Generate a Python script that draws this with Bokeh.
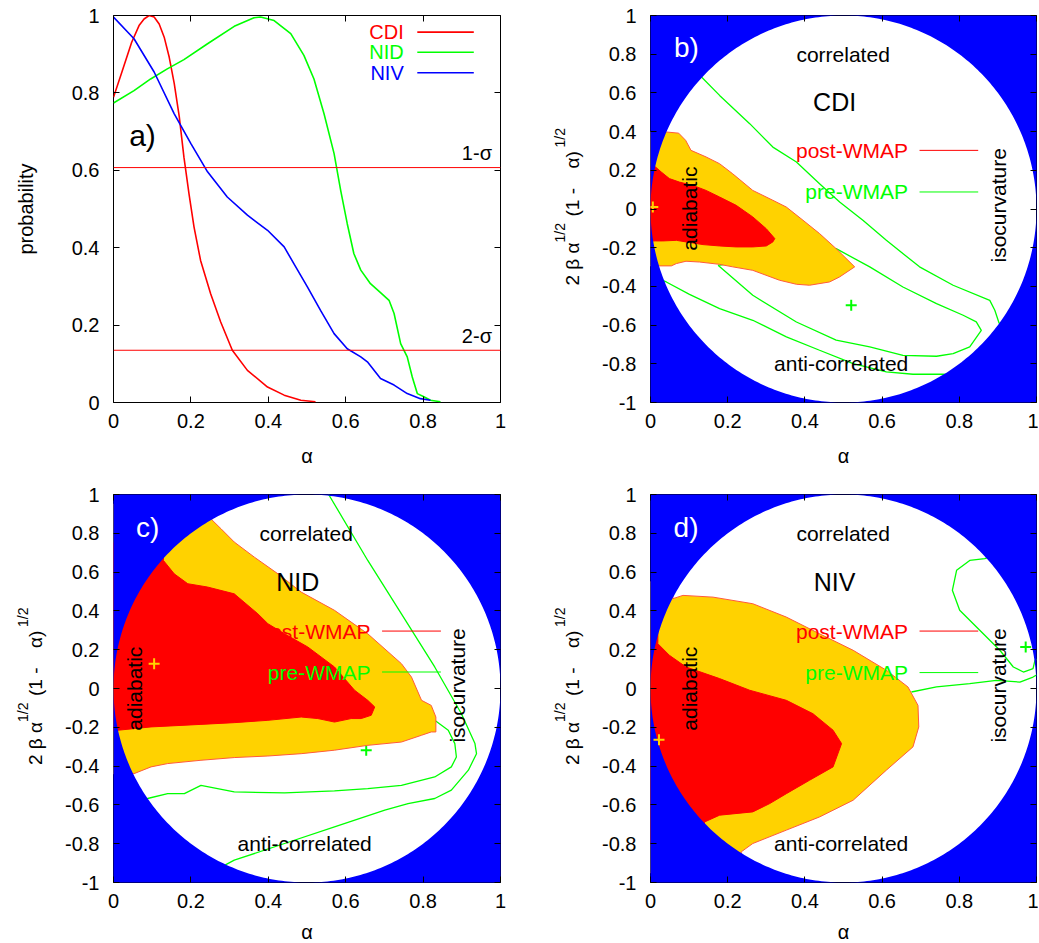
import math
import numpy as np
from bokeh.plotting import figure
from bokeh.models import Range1d, LinearAxis, FixedTicker, Label, Span, NumeralTickFormatter
from bokeh.layouts import column, row
from bokeh.embed import file_html
from bokeh.resources import INLINE

FONT = "Liberation Sans"
BLUE = "#0000ff"
GOLD = "#ffd200"
RED = "#ff0000"
GREEN = "#00ff00"

# ---------------- data ----------------
alpha_ticks = [0, 0.2, 0.4, 0.6, 0.8, 1]
prob_ticks = [0, 0.2, 0.4, 0.6, 0.8, 1]
corr_ticks = [-1, -0.8, -0.6, -0.4, -0.2, 0, 0.2, 0.4, 0.6, 0.8, 1]
sigma_levels = [0.607, 0.135]
sigma_labels = ["1-σ", "2-σ"]
model_names = ["CDI", "NID", "NIV"]

# panel a: marginalised probability of alpha
cdi_alpha = [0.000, 0.023, 0.047, 0.066, 0.079, 0.092, 0.105, 0.118, 0.131, 0.144, 0.157, 0.170,
             0.182, 0.195, 0.208, 0.225, 0.251, 0.277, 0.307, 0.346, 0.398, 0.441, 0.484, 0.522]
cdi_prob = [0.789, 0.858, 0.931, 0.974, 0.991, 1.000, 0.996, 0.978, 0.944, 0.892, 0.824, 0.738,
            0.634, 0.540, 0.454, 0.367, 0.281, 0.208, 0.135, 0.083, 0.040, 0.019, 0.006, 0.002]
nid_alpha = [0.000, 0.053, 0.096, 0.139, 0.182, 0.243, 0.312, 0.363, 0.380, 0.415, 0.458, 0.492,
             0.518, 0.544, 0.570, 0.587, 0.604, 0.621, 0.639, 0.664, 0.690, 0.712, 0.725, 0.742,
             0.759, 0.772, 0.785, 0.802, 0.819, 0.845]
nid_prob = [0.774, 0.806, 0.836, 0.862, 0.886, 0.927, 0.972, 0.994, 0.996, 0.987, 0.953, 0.897,
            0.836, 0.746, 0.643, 0.548, 0.462, 0.385, 0.342, 0.307, 0.284, 0.264, 0.230, 0.152,
            0.118, 0.066, 0.023, 0.015, 0.006, 0.002]
niv_alpha = [0.000, 0.053, 0.105, 0.157, 0.200, 0.243, 0.294, 0.346, 0.398, 0.441, 0.466, 0.501,
             0.535, 0.570, 0.604, 0.639, 0.656, 0.690, 0.725, 0.759, 0.793, 0.819]
niv_prob = [0.996, 0.940, 0.854, 0.746, 0.669, 0.596, 0.531, 0.484, 0.445, 0.402, 0.359, 0.299,
            0.238, 0.178, 0.139, 0.118, 0.105, 0.062, 0.045, 0.023, 0.010, 0.006]

# panel b: CDI
b_post2_x = [-0.05, 0.041, 0.073, 0.091, 0.105, 0.144, 0.179, 0.213, 0.265, 0.317, 0.352, 0.395, 0.438,
             0.481, 0.529, 0.490, 0.464, 0.412, 0.378, 0.334, 0.265, 0.213, 0.179, 0.127, 0.092,
             0.067, 0.054, 0.023, -0.05]
b_post2_y = [0.40, 0.398, 0.392, 0.355, 0.303, 0.269, 0.234, 0.182, 0.096, 0.045, 0.010, -0.058, -0.127,
             -0.205, -0.299, -0.351, -0.377, -0.394, -0.389, -0.368, -0.317, -0.299, -0.286, -0.274,
             -0.270, -0.282, -0.294, -0.294, -0.294]
b_post1_x = [-0.05, 0.013, 0.028, 0.049, 0.075, 0.110, 0.144, 0.179, 0.222, 0.265, 0.300, 0.322, 0.317,
             0.300, 0.265, 0.222, 0.179, 0.136, 0.092, 0.067, 0.032, 0.013, -0.05]
b_post1_y = [0.217, 0.217, 0.191, 0.157, 0.139, 0.122, 0.096, 0.062, 0.019, -0.041, -0.102, -0.153, -0.170,
             -0.191, -0.196, -0.196, -0.191, -0.184, -0.170, -0.162, -0.165, -0.165, -0.165]
b_pre_a_x = [0.12, 0.134, 0.179, 0.257, 0.317, 0.378, 0.438, 0.490, 0.551, 0.611, 0.697, 0.784, 0.879,
             0.892, 0.903, 0.915]
b_pre_a_y = [0.70, 0.678, 0.587, 0.441, 0.320, 0.243, 0.131, 0.036, -0.059, -0.162, -0.299, -0.394, -0.472,
             -0.523, -0.589, -0.61]
b_pre_b_x = [0.175, 0.265, 0.378, 0.481, 0.568, 0.654, 0.741, 0.784, 0.827, 0.857, 0.844, 0.810, 0.741,
             0.654, 0.568, 0.481, 0.40, 0.25, 0.175]
b_pre_b_y = [-0.291, -0.446, -0.584, -0.678, -0.713, -0.756, -0.761, -0.747, -0.713, -0.627, -0.583, -0.549,
             -0.489, -0.403, -0.299, -0.205, -0.25, -0.27, -0.291]
b_pre_c_x = [0.02, 0.041, 0.101, 0.179, 0.265, 0.352, 0.438, 0.525, 0.611, 0.680, 0.754, 0.78]
b_pre_c_y = [-0.36, -0.377, -0.441, -0.515, -0.575, -0.661, -0.730, -0.799, -0.842, -0.854, -0.854, -0.855]
b_post_best = [0.006, 0.010]
b_pre_best = [0.520, -0.497]

# panel c: NID
c_post2_x = [0.254, 0.278, 0.312, 0.364, 0.425, 0.485, 0.571, 0.657, 0.744, 0.770, 0.796, 0.821, 0.833,
             0.833, 0.821, 0.796, 0.744, 0.657, 0.571, 0.485, 0.399, 0.312, 0.226, 0.140, 0.097,
             0.053, -0.05, -0.05, 0.254]
c_post2_y = [0.870, 0.823, 0.755, 0.677, 0.591, 0.497, 0.403, 0.282, 0.128, 0.059, -0.061, -0.087, -0.147,
             -0.224, -0.224, -0.241, -0.276, -0.293, -0.318, -0.336, -0.348, -0.356, -0.370, -0.387,
             -0.404, -0.439, -0.44, 0.95, 0.95]
c_post1_x = [0.129, 0.157, 0.192, 0.243, 0.312, 0.373, 0.399, 0.442, 0.502, 0.571, 0.623, 0.657, 0.675,
             0.666, 0.640, 0.614, 0.571, 0.528, 0.485, 0.399, 0.312, 0.226, 0.097, 0.012, -0.05,
             -0.05, 0.129]
c_post1_y = [0.660, 0.591, 0.540, 0.523, 0.488, 0.385, 0.334, 0.282, 0.214, 0.111, -0.009, -0.061, -0.095,
             -0.138, -0.155, -0.155, -0.173, -0.155, -0.147, -0.164, -0.176, -0.185, -0.198, -0.215,
             -0.215, 0.75, 0.75]
c_pre_a_x = [0.556, 0.657, 0.744, 0.830, 0.899, 0.934, 0.938, 0.917, 0.873, 0.830, 0.761, 0.701, 0.571,
             0.442, 0.312, 0.27]
c_pre_a_y = [1.0, 0.660, 0.385, 0.111, -0.130, -0.284, -0.336, -0.421, -0.524, -0.567, -0.593, -0.627,
             -0.713, -0.799, -0.885, -0.93]
c_pre_b_x = [0.80, 0.830, 0.865, 0.882, 0.886, 0.873, 0.830, 0.744, 0.657, 0.571, 0.442, 0.312, 0.226,
             0.183, 0.140, 0.088, 0.06]
c_pre_b_y = [-0.13, -0.164, -0.215, -0.284, -0.353, -0.404, -0.456, -0.499, -0.516, -0.528, -0.538, -0.533,
             -0.499, -0.542, -0.542, -0.567, -0.58]
c_post_best = [0.105, 0.128]
c_pre_best = [0.653, -0.318]

# panel d: NIV
d_post2_x = [0.058, 0.084, 0.162, 0.265, 0.352, 0.438, 0.525, 0.611, 0.667, 0.693, 0.695, 0.680, 0.611,
             0.525, 0.438, 0.352, 0.265, 0.235, 0.235, -0.05, -0.05, 0.058]
d_post2_y = [0.463, 0.480, 0.471, 0.437, 0.368, 0.282, 0.197, 0.094, 0.008, -0.087, -0.198, -0.301, -0.421,
             -0.576, -0.662, -0.730, -0.799, -0.842, -0.95, -0.95, 0.55, 0.55]
d_post1_x = [0.019, 0.049, 0.092, 0.179, 0.257, 0.352, 0.421, 0.473, 0.495, 0.473, 0.412, 0.352, 0.309,
             0.265, 0.179, 0.140, 0.140, -0.05, -0.05, 0.019]
d_post1_y = [0.231, 0.171, 0.111, 0.051, -0.009, -0.061, -0.130, -0.215, -0.284, -0.404, -0.473, -0.542,
             -0.593, -0.636, -0.653, -0.688, -0.80, -0.80, 0.30, 0.30]
d_pre_a_x = [0.676, 0.741, 0.827, 0.896, 0.957, 0.991, 1.01]
d_pre_a_y = [-0.018, 0.008, 0.025, 0.042, 0.033, 0.059, 0.08]
d_pre_b_x = [0.88, 0.866, 0.827, 0.793, 0.782, 0.801, 0.853, 0.905, 0.940, 0.966, 0.991, 0.996, 1.01]
d_pre_b_y = [0.68, 0.669, 0.660, 0.609, 0.506, 0.403, 0.300, 0.197, 0.111, 0.085, 0.102, 0.145, 0.16]
d_post_best = [0.022, -0.264]
d_pre_best = [0.972, 0.214]


# ---------------- helpers ----------------
def base_fig(ylo, bl, br, bt, bb, fw, fh, yticks, xlab_standoff, xtick_standoff):
    p = figure(frame_width=fw, frame_height=fh, x_range=Range1d(0, 1), y_range=Range1d(ylo, 1),
               output_backend="svg", toolbar_location=None,
               min_border_left=bl, min_border_right=br, min_border_top=bt, min_border_bottom=bb,
               background_fill_color="white", border_fill_color="white")
    p.grid.visible = False
    p.outline_line_color = "black"
    p.outline_line_width = 1
    for ax, ticks in ((p.xaxis[0], alpha_ticks), (p.yaxis[0], yticks)):
        ax.ticker = FixedTicker(ticks=ticks)
        ax.formatter = NumeralTickFormatter(format="0.[0]")
        ax.major_tick_in = 6
        ax.major_tick_out = 0
        ax.minor_tick_line_color = None
        ax.axis_line_color = None
        ax.major_tick_line_color = "black"
        ax.major_label_text_font = FONT
        ax.major_label_text_font_size = "20px"
        ax.major_label_text_color = "black"
        ax.axis_label_text_font = FONT
        ax.axis_label_text_font_size = "20px"
        ax.axis_label_text_font_style = "normal"
        ax.axis_label_text_color = "black"
    p.xaxis[0].axis_label = "α"
    p.xaxis[0].major_label_standoff = xtick_standoff
    p.xaxis[0].axis_label_standoff = xlab_standoff
    p.yaxis[0].major_label_standoff = 14
    for loc, ticks in (("above", alpha_ticks), ("right", yticks)):
        ax = LinearAxis(ticker=FixedTicker(ticks=ticks), major_label_text_font_size="1px",
                        major_label_text_color=None, major_label_text_alpha=0,
                        major_label_standoff=0, major_tick_in=6, major_tick_out=0,
                        axis_line_color=None, minor_tick_line_color=None,
                        major_tick_line_color="black")
        p.add_layout(ax, loc)
    return p


def lab(p, x, y, text, size, color="black", angle=0.0, align="center", baseline="middle"):
    p.add_layout(Label(x=x, y=y, text=text, text_font=FONT, text_font_size=size,
                       text_color=color, angle=angle, angle_units="rad",
                       text_align=align, text_baseline=baseline))


def ylabel_fig(W, top, fh, bottom):
    # narrow companion figure whose frame is aligned with the neighbouring panel's frame;
    # y coordinates are pixels measured from the frame centre
    f = figure(frame_width=W, frame_height=fh,
               x_range=Range1d(0, W), y_range=Range1d(-fh / 2, fh / 2),
               output_backend="svg", toolbar_location=None,
               min_border_left=0, min_border_right=0, min_border_top=top, min_border_bottom=bottom,
               x_axis_location=None, y_axis_location=None,
               background_fill_color="white", border_fill_color="white")
    f.outline_line_color = None
    f.grid.visible = False
    pieces = [("2 β α", W - 18, -76.5, "19px"),
              ("1/2", W - 31, -33.5, "14px"),
              ("(1 -", W - 18, -7.5, "19px"),
              ("α)", W - 18, 40.5, "19px"),
              ("1/2", W - 31, 61.5, "14px")]
    for t, x, y, s in pieces:
        lab(f, x, y, t, s, angle=math.pi / 2, align="left", baseline="alphabetic")
    return f


def mask(p):
    t = np.linspace(0, 2 * np.pi, 400)
    hx = list(0.5 + 0.5 * np.cos(t))
    hy = list(np.sin(t))
    ox = [-0.2, 1.2, 1.2, -0.2]
    oy = [-1.2, -1.2, 1.2, 1.2]
    p.multi_polygons(xs=[[[ox, hx]]], ys=[[[oy, hy]]], fill_color=BLUE, line_color=None)


def contour_panel(p, pre_lines, pre_best, post2, post1, post_best, letter, name, txt):
    xs = [l[0] for l in pre_lines]
    ys = [l[1] for l in pre_lines]
    p.multi_line(xs=xs, ys=ys, line_color=GREEN, line_width=1.3)
    p.scatter([pre_best[0]], [pre_best[1]], marker="cross", size=11, line_width=2, color=GREEN)
    p.patch(post2[0], post2[1], fill_color=GOLD, line_color="#ff5a3c", line_width=1)
    p.patch(post1[0], post1[1], fill_color=RED, line_color=RED, line_width=1)
    mask(p)
    p.scatter([post_best[0]], [post_best[1]], marker="cross", size=11, line_width=2, color=GOLD)
    lab(p, txt["letter"][0], txt["letter"][1], letter, "28px", color="white")
    lab(p, txt["corr"][0], txt["corr"][1], "correlated", "21px")
    lab(p, txt["name"][0], txt["name"][1], name, "25px")
    lab(p, txt["anti"][0], txt["anti"][1], "anti-correlated", "21px")
    lab(p, txt["adia"][0], txt["adia"][1], "adiabatic", "21px", angle=math.pi / 2)
    lab(p, txt["iso"][0], txt["iso"][1], "isocurvature", "21px", angle=math.pi / 2)
    lab(p, txt["legx"], txt["post_y"], "post-WMAP", "21px", color=RED, align="right")
    lab(p, txt["legx"], txt["pre_y"], "pre-WMAP", "21px", color=GREEN, align="right")
    p.segment(x0=[txt["legx"] + 0.03], y0=[txt["post_y"]], x1=[txt["legx"] + 0.182], y1=[txt["post_y"]],
              line_color=RED, line_width=1)
    p.segment(x0=[txt["legx"] + 0.03], y0=[txt["pre_y"]], x1=[txt["legx"] + 0.182], y1=[txt["pre_y"]],
              line_color=GREEN, line_width=1)


# ---------------- row geometry (page has no margin) ----------------
TOP1, FH1, BOT1 = 15, 387, 71
TOP2, FH2, BOT2 = 21, 388, 61
LABW_R, LABW_L = 70, 53

# ---------------- panel a ----------------
pa = base_fig(0, 113, 20, TOP1, BOT1, 387, FH1, prob_ticks, 14, 11)
for lev, txt_s in zip(sigma_levels, sigma_labels):
    pa.add_layout(Span(location=lev, dimension="width", line_color=RED, line_width=1))
    lab(pa, 0.978, lev + 0.037, txt_s, "20px", align="right")
pa.line(cdi_alpha, cdi_prob, line_color=RED, line_width=1.6)
pa.line(nid_alpha, nid_prob, line_color=GREEN, line_width=1.6)
pa.line(niv_alpha, niv_prob, line_color=BLUE, line_width=1.6)
for name, col, yy in zip(model_names, [RED, GREEN, BLUE], [0.957, 0.905, 0.852]):
    lab(pa, 0.750, yy, name, "20px", color=col, align="right")
    pa.segment(x0=[0.785], y0=[yy], x1=[0.931], y1=[yy], line_color=col, line_width=1.6)
lab(pa, 0.075, 0.69, "a)", "30px")
pa.yaxis[0].axis_label = "probability"
pa.yaxis[0].axis_label_standoff = 32

# ---------------- panel b ----------------
lb = ylabel_fig(LABW_R, TOP1, FH1, BOT1)
pb = base_fig(-1, 60, 2, TOP1, BOT1, 386, FH1, corr_ticks, 14, 11)
contour_panel(pb, [(b_pre_a_x, b_pre_a_y), (b_pre_b_x, b_pre_b_y), (b_pre_c_x, b_pre_c_y)], b_pre_best,
              (b_post2_x, b_post2_y), (b_post1_x, b_post1_y), b_post_best, "b)", "CDI",
              dict(letter=(0.093, 0.835), corr=(0.499, 0.80), name=(0.477, 0.552), anti=(0.494, -0.799),
                   adia=(0.101, 0.002), iso=(0.901, 0.019), legx=0.667, post_y=0.303, pre_y=0.088))

# ---------------- panel c ----------------
lc = ylabel_fig(LABW_L, TOP2, FH2, BOT2)
pc = base_fig(-1, 60, 20, TOP2, BOT2, 387, FH2, corr_ticks, 10, 11)
contour_panel(pc, [(c_pre_a_x, c_pre_a_y), (c_pre_b_x, c_pre_b_y)], c_pre_best,
              (c_post2_x, c_post2_y), (c_post1_x, c_post1_y), c_post_best, "c)", "NID",
              dict(letter=(0.088, 0.832), corr=(0.498, 0.797), name=(0.476, 0.549), anti=(0.494, -0.799),
                   adia=(0.053, -0.001), iso=(0.890, 0.016), legx=0.664, post_y=0.296, pre_y=0.085))

# ---------------- panel d ----------------
ld = ylabel_fig(LABW_R, TOP2, FH2, BOT2)
pd_ = base_fig(-1, 60, 2, TOP2, BOT2, 386, FH2, corr_ticks, 10, 11)
contour_panel(pd_, [(d_pre_a_x, d_pre_a_y), (d_pre_b_x, d_pre_b_y)], d_pre_best,
              (d_post2_x, d_post2_y), (d_post1_x, d_post1_y), d_post_best, "d)", "NIV",
              dict(letter=(0.092, 0.832), corr=(0.499, 0.797), name=(0.477, 0.549), anti=(0.494, -0.799),
                   adia=(0.101, -0.001), iso=(0.901, 0.016), legx=0.667, post_y=0.296, pre_y=0.082))

layout = column(row(pa, lb, pb), row(lc, pc, ld, pd_))
open("out.html", "w").write(file_html(layout, INLINE))
